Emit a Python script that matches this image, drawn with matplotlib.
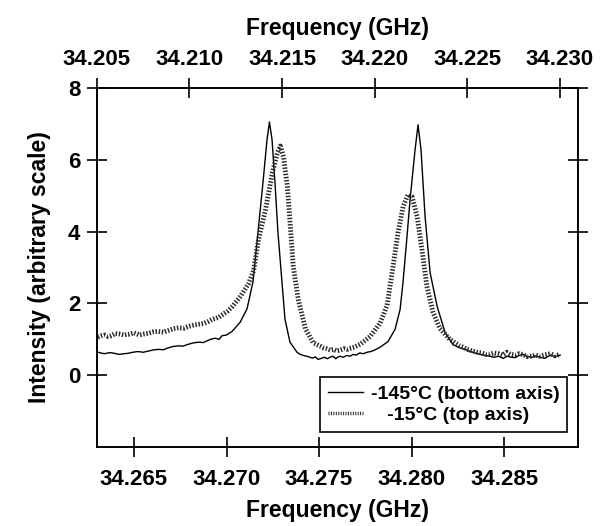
import matplotlib
matplotlib.use("Agg")
import matplotlib.pyplot as plt
from matplotlib.lines import Line2D

plt.rcParams['font.family'] = ['Liberation Sans', 'DejaVu Sans']
plt.rcParams['font.weight'] = 'bold'

# -145 C spectrum, plotted against the bottom axis (GHz)
freq_cold = [34.26300, 34.26320, 34.26340, 34.26370, 34.26395, 34.26420, 34.26445,
             34.26468, 34.26495, 34.26520, 34.26550, 34.26576, 34.26600, 34.26630,
             34.26660, 34.26684, 34.26710, 34.26740, 34.26765, 34.26792, 34.26820,
             34.26850, 34.26875, 34.26900, 34.26920, 34.26940, 34.26960, 34.26976,
             34.27000, 34.27030, 34.27073, 34.27111, 34.27143, 34.27170, 34.27197,
             34.27219, 34.27232, 34.27246, 34.27262, 34.27278, 34.27300, 34.27316,
             34.27343, 34.27381, 34.27395, 34.27410, 34.27422, 34.27435, 34.27450,
             34.27465, 34.27480, 34.27495, 34.27512, 34.27530, 34.27545, 34.27559,
             34.27575, 34.27590, 34.27600, 34.27613, 34.27630, 34.27650, 34.27668,
             34.27684, 34.27700, 34.27720, 34.27740, 34.27759, 34.27780, 34.27800,
             34.27815, 34.27830, 34.27873, 34.27911, 34.27938, 34.27954, 34.27976,
             34.27992, 34.28019, 34.28035, 34.28051, 34.28073, 34.28100, 34.28138,
             34.28181, 34.28224, 34.28262, 34.28280, 34.28300, 34.28315, 34.28332,
             34.28355, 34.28380, 34.28400, 34.28424, 34.28445, 34.28470, 34.28495,
             34.28516, 34.28540, 34.28560, 34.28580, 34.28603, 34.28625, 34.28650,
             34.28670, 34.28694, 34.28720, 34.28750, 34.28775, 34.28803]
int_cold = [0.65, 0.62, 0.60, 0.63, 0.61, 0.58, 0.60, 0.61, 0.64, 0.66, 0.64, 0.67,
            0.70, 0.72, 0.71, 0.76, 0.80, 0.82, 0.81, 0.86, 0.90, 0.92, 0.91, 0.97,
            1.01, 1.03, 1.00, 1.10, 1.12, 1.22, 1.47, 1.85, 2.60, 3.97, 5.36, 6.56,
            7.05, 6.56, 5.36, 3.97, 2.58, 1.56, 0.92, 0.64, 0.59, 0.56, 0.54, 0.53,
            0.50, 0.48, 0.51, 0.44, 0.47, 0.50, 0.46, 0.50, 0.53, 0.46, 0.50, 0.53,
            0.50, 0.55, 0.53, 0.58, 0.56, 0.62, 0.60, 0.64, 0.66, 0.70, 0.74, 0.78,
            0.94, 1.28, 1.83, 2.60, 3.90, 4.89, 6.28, 6.97, 6.28, 4.42, 2.86, 1.92,
            1.19, 0.85, 0.76, 0.73, 0.70, 0.66, 0.64, 0.60, 0.57, 0.55, 0.53, 0.50,
            0.53, 0.47, 0.53, 0.50, 0.49, 0.55, 0.58, 0.52, 0.50, 0.54, 0.50, 0.47,
            0.56, 0.52, 0.56]

# -15 C spectrum, plotted against the top axis (GHz)
freq_warm = [34.20505, 34.20525, 34.20540, 34.20560, 34.20575, 34.20600, 34.20620,
             34.20645, 34.20672, 34.20700, 34.20730, 34.20755, 34.20780, 34.20805,
             34.20830, 34.20860, 34.20888, 34.20915, 34.20940, 34.20970, 34.20996,
             34.21025, 34.21050, 34.21075, 34.21103, 34.21120, 34.21140, 34.21160,
             34.21179, 34.21205, 34.21233, 34.21276, 34.21319, 34.21346, 34.21373,
             34.21411, 34.21448, 34.21475, 34.21491, 34.21508, 34.21529, 34.21545,
             34.21561, 34.21588, 34.21626, 34.21669, 34.21707, 34.21725, 34.21740,
             34.21760, 34.21777, 34.21795, 34.21815, 34.21835, 34.21852, 34.21870,
             34.21890, 34.21922, 34.21976, 34.22030, 34.22068, 34.22100, 34.22127,
             34.22154, 34.22181, 34.22203, 34.22230, 34.22256, 34.22283, 34.22316,
             34.22353, 34.22407, 34.22461, 34.22480, 34.22500, 34.22515, 34.22531,
             34.22555, 34.22580, 34.22600, 34.22623, 34.22645, 34.22670, 34.22690,
             34.22714, 34.22735, 34.22760, 34.22780, 34.22801, 34.22825, 34.22850,
             34.22870, 34.22892, 34.22920, 34.22950, 34.22975, 34.23000]
int_warm = [1.06, 1.10, 1.12, 1.08, 1.10, 1.16, 1.15, 1.12, 1.14, 1.18, 1.12, 1.15,
            1.17, 1.21, 1.22, 1.20, 1.25, 1.30, 1.32, 1.31, 1.36, 1.40, 1.42, 1.44,
            1.50, 1.55, 1.58, 1.62, 1.69, 1.78, 1.92, 2.20, 2.55, 2.90, 3.78, 4.61,
            5.64, 6.19, 6.38, 6.08, 5.25, 4.14, 3.03, 2.10, 1.30, 0.90, 0.81, 0.76,
            0.74, 0.70, 0.72, 0.68, 0.70, 0.74, 0.72, 0.75, 0.78, 0.86, 1.08, 1.45,
            1.95, 3.03, 3.97, 4.69, 5.03, 4.97, 4.42, 3.50, 2.47, 1.75, 1.30, 1.00,
            0.81, 0.78, 0.72, 0.70, 0.67, 0.64, 0.62, 0.58, 0.58, 0.62, 0.60, 0.56,
            0.64, 0.58, 0.56, 0.60, 0.58, 0.52, 0.53, 0.56, 0.53, 0.57, 0.60, 0.54,
            0.58]

bottom_ticks = [34.265, 34.270, 34.275, 34.280, 34.285]
top_ticks = [34.205, 34.210, 34.215, 34.220, 34.225, 34.230]
y_ticks = [0, 2, 4, 6, 8]

fig = plt.figure(figsize=(6.06, 5.26), dpi=100)
ax = fig.add_axes([0.160, 0.150, 0.794, 0.683])
ax2 = ax.twiny()

ax.plot(freq_cold, int_cold, color='black', lw=1.0)
ax2.plot(freq_warm, int_warm, color='#2a2a2a', lw=3.5, linestyle=(0, (0.3, 0.35)))

ax.set_xlim(34.263, 34.289)
ax2.set_xlim(34.205, 34.231)
ax.set_ylim(-2, 8)

ax.set_xticks(bottom_ticks)
ax.set_xticklabels([f"{t:.3f}" for t in bottom_ticks])
ax2.set_xticks(top_ticks)
ax2.set_xticklabels([f"{t:.3f}" for t in top_ticks])
ax.set_yticks(y_ticks)

for a in (ax, ax2):
    for s in a.spines.values():
        s.set_linewidth(1.2)
ax.tick_params(axis='x', direction='inout', length=14, width=1.2, pad=9, labelsize=16)
ax.tick_params(axis='y', direction='inout', length=14, width=1.2, pad=5, labelsize=16,
               right=True)
ax2.tick_params(axis='x', direction='inout', length=14, width=1.2, pad=6, labelsize=16)

ax.set_xlabel("Frequency (GHz)", fontsize=16.5, fontweight='bold', labelpad=6)
ax2.set_xlabel("Frequency (GHz)", fontsize=16.5, fontweight='bold', labelpad=10)
ax.set_ylabel("Intensity (arbitrary scale)", fontsize=16.5, fontweight='bold', labelpad=12)

handles = [Line2D([], [], color='black', lw=1.0),
           Line2D([], [], color='#2a2a2a', lw=2.5, linestyle=(0, (0.3, 0.4)))]
labels = ["-145°C (bottom axis)", "   -15°C (top axis)"]
leg = ax.legend(handles, labels, loc='lower right', bbox_to_anchor=(0.977, 0.042),
                fancybox=False, framealpha=1, edgecolor='black',
                prop={'weight': 'bold', 'size': 14}, handlelength=1.8,
                borderpad=0.4, labelspacing=0.2, handletextpad=0.4, borderaxespad=0)
leg.get_frame().set_linewidth(1.2)

fig.savefig("out.png", dpi=100)
